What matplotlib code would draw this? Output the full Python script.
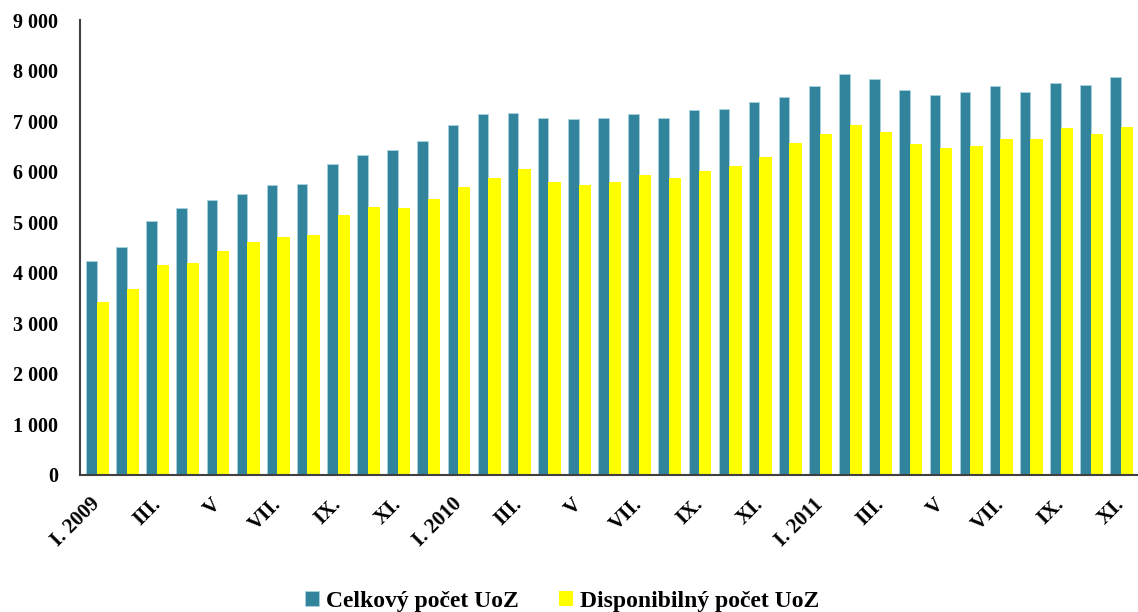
import matplotlib
matplotlib.use("Agg")
import matplotlib.pyplot as plt
from matplotlib.ticker import FuncFormatter

# months I.2009 .. XI.2011
labels = ["I. 2009", "", "III.", "", "V", "", "VII.", "", "IX.", "", "XI.", "",
          "I. 2010", "", "III.", "", "V", "", "VII.", "", "IX.", "", "XI.", "",
          "I. 2011", "", "III.", "", "V", "", "VII.", "", "IX.", "", "XI."]

celkovy = [4240, 4520, 5030, 5290, 5440, 5560, 5740, 5760, 6150, 6330, 6435, 6614,
           6923, 7134, 7166, 7067, 7035, 7067, 7134, 7067, 7213, 7245, 7383, 7481,
           7692, 7943, 7837, 7627, 7521, 7587, 7692, 7587, 7765, 7725, 7870]

disponibilny = [3430, 3675, 4162, 4201, 4438, 4615, 4714, 4753, 5148, 5310, 5280, 5457,
                5700, 5871, 6049, 5805, 5733, 5805, 5943, 5871, 6016, 6121, 6298, 6575,
                6752, 6923, 6785, 6542, 6469, 6502, 6647, 6647, 6857, 6752, 6890]

teal = "#32849c"
yellow = "#ffff00"
serif = ["Liberation Serif", "DejaVu Serif"]

fig = plt.figure(figsize=(11.38, 6.12), dpi=100)
ax = fig.add_axes([0.0703, 0.224, 0.935, 0.743])

x = list(range(len(labels)))
ax.bar([i - 0.37 for i in x], celkovy, width=0.35, align="edge", color=teal,
       edgecolor="#a9d3df", linewidth=0.6, label="Celkový počet UoZ")
ax.bar([i - 0.02 for i in x], disponibilny, width=0.41, align="edge", color=yellow,
       linewidth=0, label="Disponibilný počet UoZ")

ax.set_xlim(-0.57, 34.75)
ax.set_ylim(0, 9000)
ax.set_yticks(range(0, 9001, 1000))
ax.yaxis.set_major_formatter(FuncFormatter(lambda v, p: f"{int(v):,}".replace(",", " ")))
ax.set_xticks(x)
ax.set_xticklabels(labels, rotation=45, ha="right", va="center", rotation_mode="anchor")

for s in ["top", "right"]:
    ax.spines[s].set_visible(False)
for s in ["left", "bottom"]:
    ax.spines[s].set_color("#404040")
    ax.spines[s].set_linewidth(1.5)

ax.tick_params(axis="both", length=0)
ax.tick_params(axis="y", pad=16)
ax.tick_params(axis="x", pad=19)
for t in ax.get_yticklabels():
    t.set_fontfamily(serif)
    t.set_fontweight("bold")
    t.set_fontsize(14.5)
for t in ax.get_xticklabels():
    t.set_fontfamily(serif)
    t.set_fontweight("bold")
    t.set_fontsize(15)

fig.legend(loc="lower center", bbox_to_anchor=(0.494, -0.034), ncol=2, frameon=False,
           handlelength=0.6, handleheight=0.6, handletextpad=0.3, columnspacing=1.7,
           prop={"family": serif, "weight": "bold", "size": 17})

fig.savefig("out.png", dpi=100)
